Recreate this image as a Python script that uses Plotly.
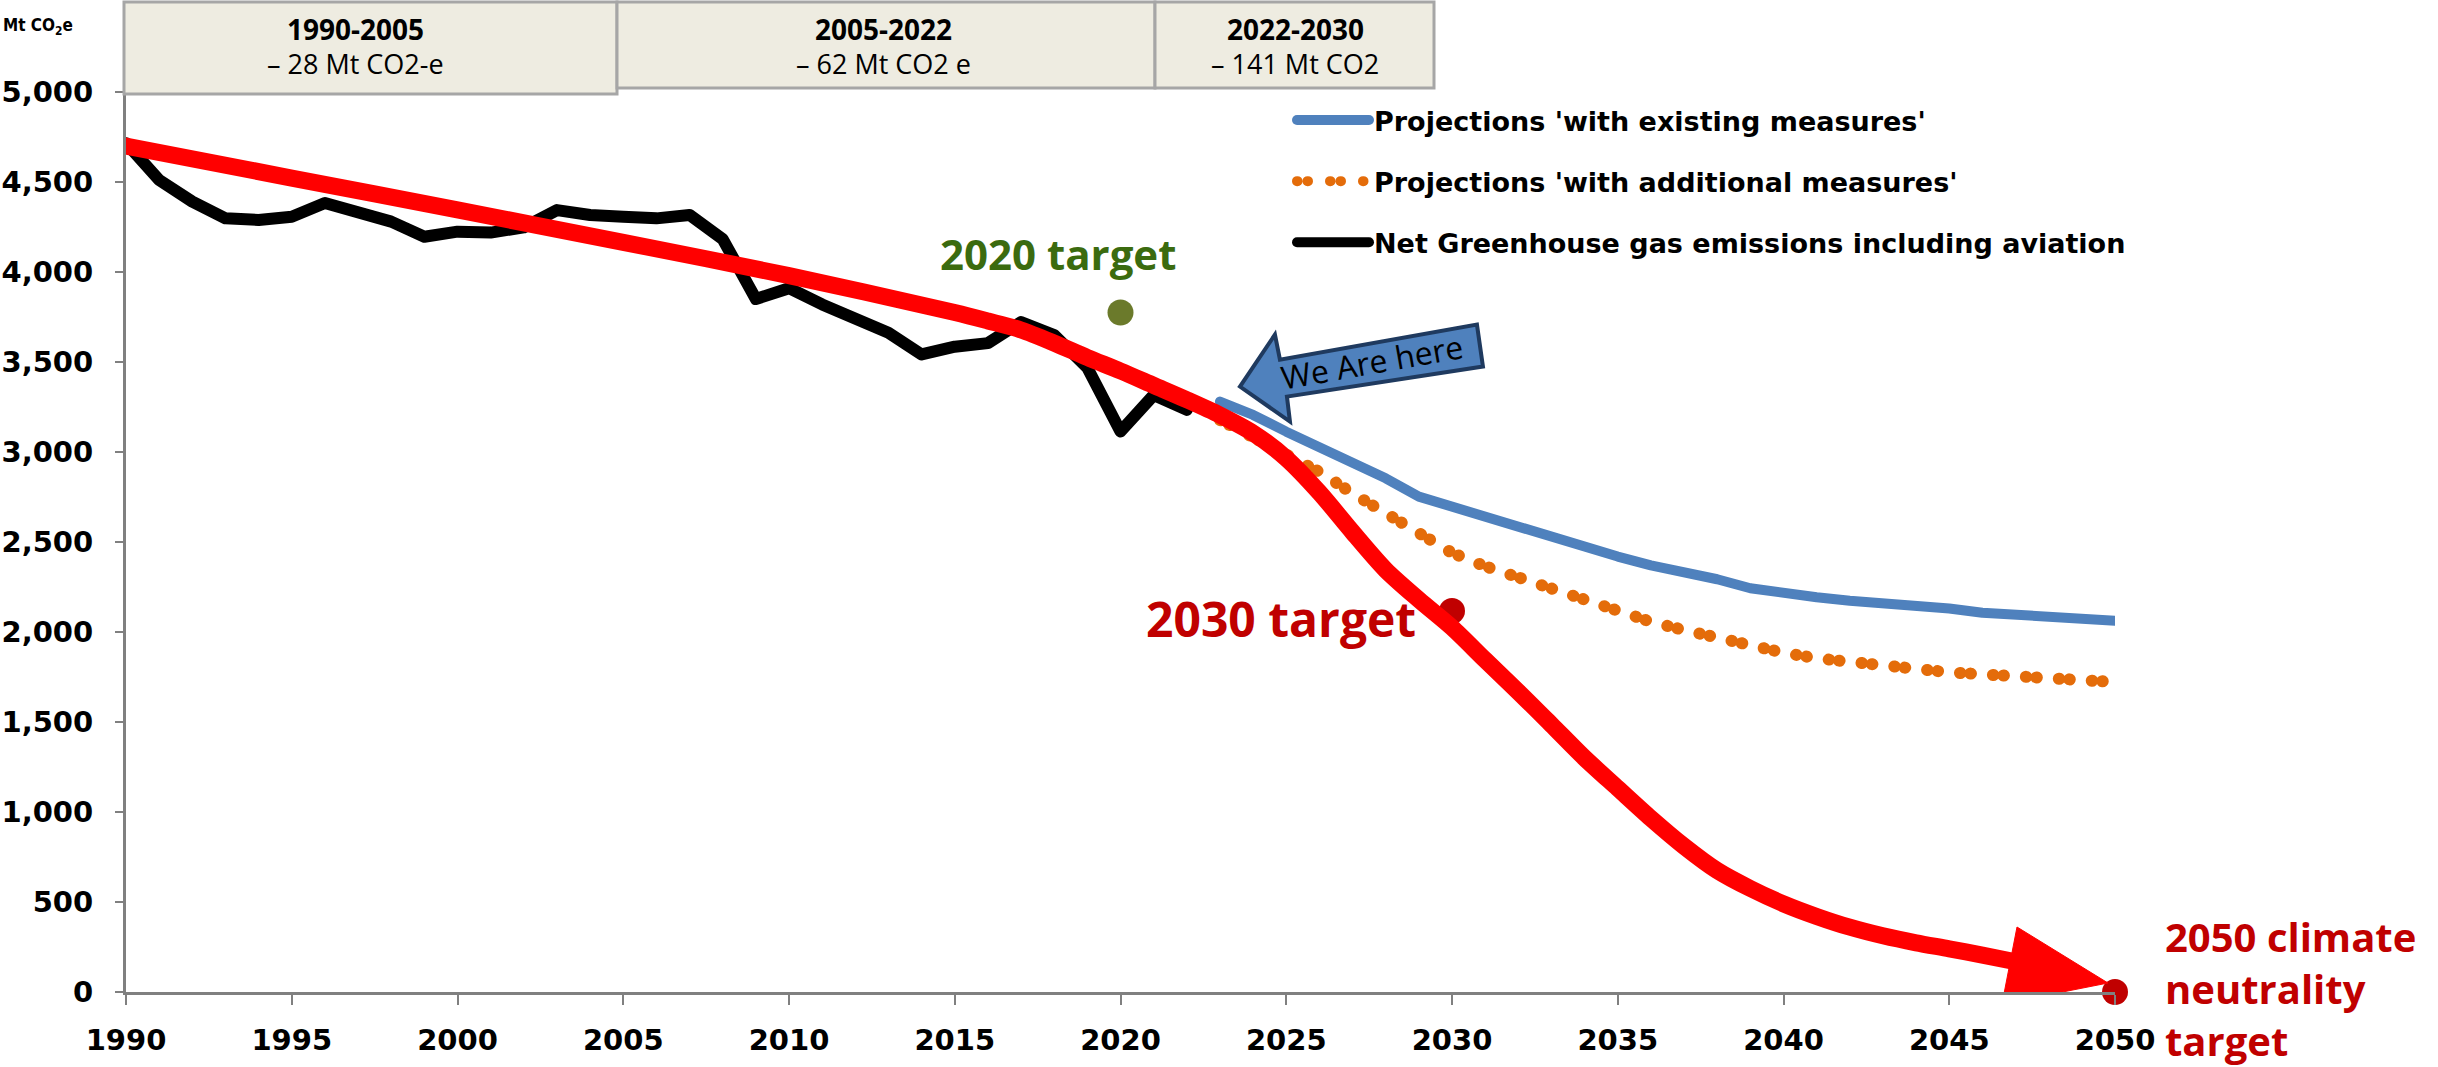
import plotly.graph_objects as go

# net greenhouse gas emissions incl. aviation (Mt CO2e)
ghg_years = list(range(1990, 2023))
ghg_values = [4716, 4511, 4391, 4298, 4289, 4307, 4383, 4335, 4280, 4196,
              4224, 4219, 4248, 4344, 4317, 4307, 4298, 4317, 4183, 3850,
              3910, 3820, 3745, 3663, 3542, 3585, 3605, 3722, 3650, 3468,
              3114, 3316, 3234]

proj_years = list(range(2023, 2051))
wem_values = [3280, 3206, 3113, 3030, 2937, 2854, 2752, 2696, 2632, 2576,
              2530, 2474, 2419, 2370, 2335, 2293, 2243, 2215, 2193, 2174,
              2163, 2141, 2131, 2107, 2094, 2082, 2071, 2063]
wam_values = [3178, 3080, 2985, 2890, 2770, 2665, 2550, 2440, 2365, 2300,
              2238, 2170, 2105, 2057, 2011, 1965, 1922, 1885, 1854, 1832,
              1807, 1796, 1776, 1765, 1752, 1741, 1732, 1722]

# pathway drawn towards the targets
path_years = [1990, 1995, 2000, 2005, 2010] + list(range(2015, 2048))
path_values = [4700, 4522, 4345, 4165, 3980,
               3775, 3728, 3678, 3605, 3525, 3450, 3370, 3290, 3205, 3105,
               2965, 2775, 2555, 2345, 2180, 2025, 1845, 1668, 1485, 1300,
               1132, 965, 810, 675, 575, 490, 420, 360, 312, 273,
               240, 205, 168]

target_years = [2020, 2030, 2050]
target_values = [3775, 2117, 0]

periods = ["1990-2005", "2005-2022", "2022-2030"]
period_changes = ["– 28 Mt CO2-e", "– 62 Mt CO2 e", "– 141 Mt CO2"]

legend_names = ["Projections 'with existing measures'",
                "Projections 'with additional measures'",
                "Net Greenhouse gas emissions including aviation"]

W, H = 2438, 1067
L, T, PW, PH = 126, 92, 1989, 900


def px_x(px):
    return (px - L) / PW


def px_y(py):
    return (T + PH - py) / PH


BOLD = dict(family="DejaVu Sans", weight="bold", color="black")
OPEN = "Open Sans"

fig = go.Figure()

fig.add_trace(go.Scatter(x=ghg_years, y=ghg_values, mode="lines", name=legend_names[2],
                         line=dict(color="black", width=12), legendrank=3, legendgroup="c"))
fig.add_trace(go.Scatter(x=proj_years, y=wem_values, mode="lines", name=legend_names[0],
                         line=dict(color="#4F81BD", width=10), legendrank=1, legendgroup="a"))
fig.add_trace(go.Scatter(x=proj_years, y=wam_values, mode="lines", name=legend_names[1],
                         line=dict(color="#E46C0A", width=12, dash="0.5px,10px,0.5px,22px"),
                         legendrank=2, legendgroup="b"))
fig.add_trace(go.Scatter(x=target_years, y=target_values, mode="markers", showlegend=False,
                         marker=dict(size=26, color=["#6B7A2B", "#C00000", "#C00000"]),
                         cliponaxis=False))
fig.add_trace(go.Scatter(x=path_years, y=path_values, mode="lines", showlegend=False,
                         line=dict(color="#FF0000", width=17, shape="spline", smoothing=0.8),
                         cliponaxis=False))

shapes = []
annotations = []
# period boxes above the plot
box_px = [(124, 617, 2, 94), (617, 1155, 2, 88), (1155, 1434, 2, 88)]
text_px = [355, 883, 1295]
for (x0, x1, y0, y1), tx, p, c in zip(box_px, text_px, periods, period_changes):
    shapes.append(dict(type="rect", xref="paper", yref="paper",
                       x0=px_x(x0), x1=px_x(x1), y0=px_y(y1), y1=px_y(y0),
                       fillcolor="#EEECE1", line=dict(color="#A6A6A6", width=3), layer="above"))
    annotations.append(dict(xref="paper", yref="paper", x=px_x(tx), y=px_y(29), text=p,
                            xanchor="center", yanchor="middle", showarrow=False,
                            font=dict(family=OPEN, size=28, weight="bold", color="black")))
    annotations.append(dict(xref="paper", yref="paper", x=px_x(tx), y=px_y(63), text=c,
                            xanchor="center", yanchor="middle", showarrow=False,
                            font=dict(family=OPEN, size=27, color="black")))

# "We Are here" block arrow, in pixels relative to the first projection point
here_path = "M20,15 L55,67 L60,42 L257,77 L263,35 L67,5 L70,-20 Z"
shapes.append(dict(type="path", xsizemode="pixel", ysizemode="pixel",
                   xanchor=proj_years[0], yanchor=wem_values[0], path=here_path,
                   fillcolor="#4F81BD", line=dict(color="#1F3A5F", width=4), layer="above"))
annotations.append(dict(x=proj_years[0], y=wem_values[0], xshift=152, yshift=40,
                        text="We Are here", textangle=-10, showarrow=False,
                        xanchor="center", yanchor="middle",
                        font=dict(family=OPEN, size=32, color="black")))

# arrow head of the pathway, pointing at the 2050 target
shapes.append(dict(type="path", xsizemode="pixel", ysizemode="pixel",
                   xanchor=target_years[2], yanchor=target_values[2],
                   path="M-7,9 L-98,65 L-113,-12 Z",
                   fillcolor="#FF0000", line=dict(color="#FF0000", width=1), layer="above"))

annotations += [
    dict(x=target_years[0], y=target_values[0], xshift=-63, yshift=59, text="2020 target",
         xanchor="center", yanchor="middle", showarrow=False,
         font=dict(family=OPEN, size=42, weight="bold", color="#3B6B0F")),
    dict(x=target_years[1], y=target_values[1], xshift=-34, yshift=-8, xanchor="right",
         yanchor="middle", text="2030 target", showarrow=False,
         font=dict(family=OPEN, size=48, weight="bold", color="#C00000")),
    dict(x=target_years[2], y=target_values[2], xshift=48, yshift=4, xanchor="left",
         yanchor="middle", align="left", text="2050 climate<br>neutrality<br>target",
         showarrow=False, font=dict(family=OPEN, size=40, weight="bold", color="#C00000")),
    dict(xref="paper", yref="paper", x=px_x(38), y=px_y(26), text="Mt CO<sub>2</sub>e",
         xanchor="center", yanchor="middle", showarrow=False,
         font=dict(family="DejaVu Sans Condensed, DejaVu Sans", size=17, weight="bold",
                   color="black")),
]

fig.update_layout(
    width=W, height=H, autosize=False,
    margin=dict(l=L, r=W - L - PW, t=T, b=H - T - PH, pad=0),
    plot_bgcolor="white", paper_bgcolor="white",
    shapes=shapes, annotations=annotations,
    legend=dict(x=px_x(1292), y=px_y(96), xanchor="left", yanchor="top",
                font=dict(family="DejaVu Sans", size=27, weight="bold", color="black"),
                tracegroupgap=23, itemwidth=72, bgcolor="rgba(0,0,0,0)"),
    xaxis=dict(range=[1990, 2050], tickvals=list(range(1990, 2051, 5)),
               ticks="outside", ticklen=10, tickwidth=2, tickcolor="#808080",
               showline=True, linecolor="#808080", linewidth=3, automargin=False,
               showgrid=False, zeroline=False, ticklabelstandoff=10,
               tickfont=dict(size=29, **BOLD)),
    yaxis=dict(range=[0, 5000], dtick=500, tickformat=",d",
               ticks="outside", ticklen=8, tickwidth=2, tickcolor="#808080",
               showline=True, linecolor="#808080", linewidth=3, automargin=False,
               showgrid=False, zeroline=False, ticklabelstandoff=16,
               tickfont=dict(size=29, **BOLD)),
)

# no page margin, and round line caps so the dotted projection gets round dots
post = """
document.body.style.margin = '0';
var gd = document.getElementById('{plot_id}');
function roundCaps(){ gd.querySelectorAll('path.js-line').forEach(function(p){ p.style.strokeLinecap = 'round'; p.style.strokeLinejoin = 'round'; }); }
roundCaps();
gd.on('plotly_afterplot', roundCaps);
"""
fig.write_html("out.html", post_script=post, config={"displayModeBar": False})
